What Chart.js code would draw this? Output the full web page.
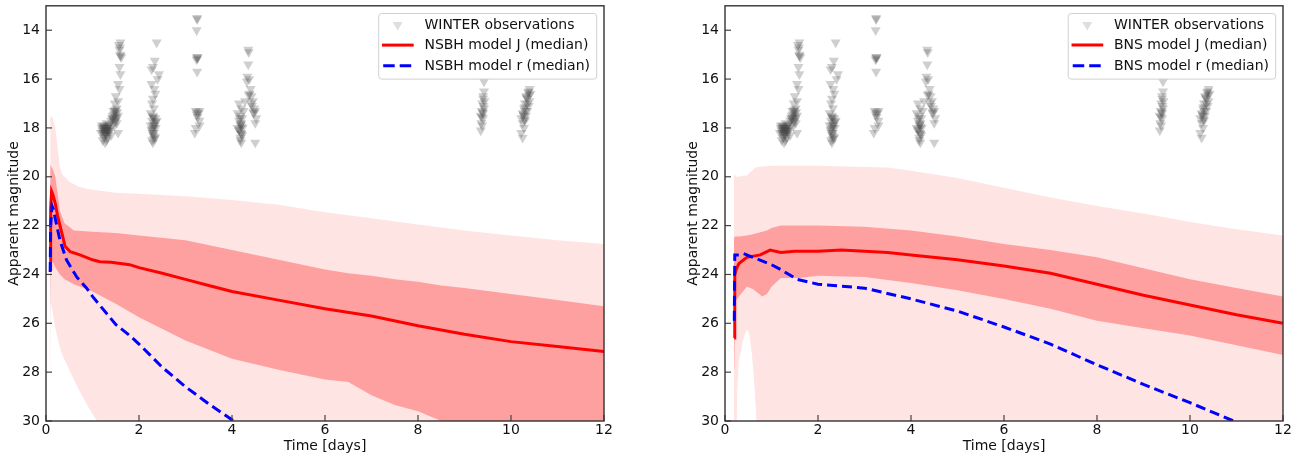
<!DOCTYPE html>
<html><head><meta charset="utf-8">
<script src="https://cdn.jsdelivr.net/npm/chart.js@4.4.1/dist/chart.umd.min.js"></script>
<style>
html,body{margin:0;padding:0;background:#fff;width:1315px;height:455px;overflow:hidden}
canvas{position:absolute;top:0}
</style></head><body>
<canvas id="c1" width="640" height="455" style="left:0px"></canvas>
<canvas id="c2" width="636" height="455" style="left:679px"></canvas>
<script>
// ---------- tick labels ----------
const xTicks = [0, 2, 4, 6, 8, 10, 12];
const yTicks = [14, 16, 18, 20, 22, 24, 26, 28, 30];

// ---------- WINTER observations (upper limits) ----------
const obsTime = [
 1.2,1.22,1.25,1.25,1.28,1.3,1.3,1.32,1.33,1.35,1.35,1.38,1.22,1.27,1.4,1.4,1.42,1.2,1.18,1.3,1.26,1.34,1.29,
 1.24,1.27,1.31,1.28,1.33,1.21,1.36,1.26,1.3,1.23,1.32,1.29,1.25,1.37,
 1.6,1.58,1.6,1.62,1.58,1.6,1.55,1.58,1.5,1.55,1.48,1.52,1.45,1.5,1.55,1.45,1.5,1.52,1.47,1.55,1.43,1.48,1.57,
 1.46,1.5,1.53,1.44,1.49,1.51,1.47,1.6,1.59,
 2.38,2.34,2.3,2.27,2.43,2.4,2.27,2.33,2.35,2.3,2.28,2.32,2.25,2.3,2.35,2.28,2.33,2.3,2.36,2.27,2.32,2.3,2.35,2.28,2.3,2.38,2.25,2.32,
 2.31,2.34,2.29,2.33,2.3,2.36,2.28,2.32,
 3.25,3.25,3.24,3.25,3.25,3.24,3.25,3.22,3.25,3.28,3.3,3.26,3.3,3.22,3.3,3.2,3.24,3.26,
 4.35,4.36,4.35,4.33,4.37,4.32,4.4,4.38,4.42,4.45,4.43,4.48,4.5,4.47,4.52,4.5,4.5,4.36,4.41,4.46,
 4.15,4.2,4.12,4.18,4.22,4.15,4.2,4.18,4.23,4.15,4.2,4.22,4.18,4.2,4.25,4.28,4.12,4.17,4.19,4.21,4.16,4.2,4.18,
 9.42,9.42,9.4,9.43,9.38,9.42,9.37,9.4,9.35,9.4,9.36,9.38,9.35,9.41,9.39,9.37,9.4,
 10.4,10.38,10.42,10.35,10.4,10.3,10.38,10.28,10.35,10.25,10.32,10.22,10.3,10.25,10.28,10.22,10.25,10.3,10.35,10.33,10.27,
 10.37,10.33,10.3,10.27,10.39,10.29
];
const obsMag = [
 18.0,18.2,17.9,18.3,18.1,17.8,18.0,18.4,18.1,17.9,18.2,18.0,18.5,18.6,17.7,18.3,17.6,17.9,18.2,18.5,18.0,18.1,18.2,
 18.05,17.95,18.1,18.25,18.0,18.1,17.85,18.15,18.3,17.95,17.95,18.05,18.4,18.1,
 14.5,14.8,15.0,15.1,15.5,15.8,16.2,16.4,16.7,16.9,17.0,17.2,17.3,17.4,17.5,17.6,17.7,17.8,17.9,18.2,17.5,17.3,14.6,
 17.45,17.55,17.35,17.65,17.25,17.6,17.75,15.05,14.7,
 14.5,15.25,15.5,15.6,15.8,16.0,16.2,16.4,16.6,16.8,17.0,17.2,17.4,17.5,17.6,17.7,17.8,17.9,18.0,18.1,18.2,18.3,18.4,18.5,18.6,17.7,17.9,18.0,
 17.6,17.9,18.2,18.35,17.55,17.75,18.05,18.45,
 13.5,13.55,14.0,15.1,15.15,15.2,15.7,17.3,17.35,17.4,17.3,17.55,17.7,18.0,17.9,18.2,17.45,15.1,
 14.8,14.9,15.4,15.9,16.0,16.1,16.4,16.6,16.7,16.9,17.1,17.2,17.3,17.4,17.6,17.8,18.6,16.65,17.0,17.35,
 17.0,17.2,17.4,17.5,17.6,17.7,17.8,17.9,18.0,18.1,18.2,18.3,18.5,18.6,17.3,16.9,18.0,17.6,17.85,17.95,18.05,18.25,18.4,
 16.1,16.5,16.7,16.9,17.0,17.2,17.3,17.4,17.5,17.6,17.8,17.9,18.1,17.1,17.35,17.55,16.8,
 16.4,16.5,16.6,16.8,16.9,17.0,17.1,17.2,17.3,17.4,17.5,17.6,17.7,17.8,18.0,18.2,18.4,17.3,17.0,16.7,17.5,
 16.55,16.75,17.15,17.45,16.65,17.65
];

// ---------- NSBH panel ----------
const nsbhLightT     = [0.09,0.1,0.105,0.15,0.2,0.3,0.35,0.5,0.7,0.9,1.1,1.5,2,3,4,5,6,7,8,9,10,11,12];
const nsbhLightUpper = [17.5,17.5,17.5,17.6,18.0,19.6,19.9,20.2,20.4,20.5,20.55,20.65,20.7,20.8,20.95,21.15,21.45,21.7,21.95,22.2,22.4,22.6,22.75];
const nsbhLightLower = [28.3,28.3,25.2,25.6,26.2,27.0,27.3,27.9,28.7,29.4,30.0,31,32,33,33,33,33,33,33,33,33,33,33];
const nsbhDarkT      = [0.09,0.1,0.105,0.15,0.2,0.3,0.4,0.6,1,1.5,2,3,4,5,6,6.5,7,7.5,8,8.5,9,10,11,12];
const nsbhDarkUpper  = [19.5,19.5,19.55,19.7,20.0,21.4,21.9,22.2,22.25,22.3,22.4,22.6,23.0,23.4,23.8,23.95,24.05,24.2,24.3,24.45,24.55,24.8,25.05,25.3];
const nsbhDarkLower  = [25.2,25.2,23.4,23.5,23.7,24.0,24.2,24.4,24.7,25.2,25.75,26.7,27.45,27.9,28.3,28.4,28.95,29.35,29.6,30.0,30.5,31.2,31.8,32.3];
const nsbhJT   = [0.09,0.1,0.12,0.15,0.2,0.25,0.34,0.41,0.52,0.73,1.0,1.16,1.4,1.8,2.0,2.5,3.0,3.5,4.0,5,6,7,8,9,10,11,12];
const nsbhJMag = [23.8,21.3,20.6,20.75,21.1,21.6,22.3,22.85,23.07,23.2,23.4,23.48,23.5,23.6,23.72,23.95,24.2,24.45,24.7,25.05,25.4,25.7,26.1,26.45,26.75,26.95,27.15];
const nsbhRT   = [0.09,0.1,0.13,0.16,0.22,0.3,0.44,0.66,0.87,1.0,1.5,1.8,2.0,2.24,2.5,3.0,3.5,4.0,4.5];
const nsbhRMag = [23.9,22.0,21.2,21.35,21.9,22.6,23.4,24.1,24.55,24.9,26.05,26.5,26.85,27.3,27.8,28.6,29.3,29.95,30.7];

// ---------- BNS panel ----------
const bnsLightT     = [0.19,0.25,0.26,0.3,0.4,0.47,0.52,0.58,0.64,0.69,0.7,1.0,2,3,3.5,4,5,6,7,8,9,10,11,12];
const bnsLightUpper = [19.9,20.0,20.0,20.0,19.95,19.95,19.85,19.75,19.65,19.6,19.6,19.55,19.55,19.6,19.62,19.75,20.05,20.45,20.85,21.2,21.5,21.85,22.15,22.4];
const bnsLightLower = [31,31,28.8,27.5,26.6,26.25,26.4,27.3,28.7,30.5,31,31,31,31,31,31,31,31,31,31,31,31,31,31];
const bnsDarkT      = [0.19,0.2,0.22,0.3,0.47,0.6,0.8,0.9,1.0,1.2,1.6,2,3,4,5,6,7,8,9,10,11,12];
const bnsDarkUpper  = [22.5,22.5,22.45,22.45,22.4,22.35,22.25,22.2,22.1,22.0,22.0,22.0,22.05,22.2,22.45,22.75,23.0,23.3,23.75,24.2,24.55,24.9];
const bnsDarkLower  = [27.9,27.9,25.1,24.9,24.5,24.6,24.9,24.8,24.5,24.15,24.15,24.05,24.1,24.35,24.65,25.0,25.4,25.9,26.2,26.5,26.9,27.3];
const bnsJT   = [0.2,0.21,0.25,0.3,0.47,0.76,0.97,1.2,1.5,2,2.5,3,3.5,4,5,6,7,8,9,10,11,12];
const bnsJMag = [26.6,24.0,23.75,23.55,23.3,23.2,23.0,23.1,23.05,23.05,23.0,23.05,23.1,23.2,23.4,23.65,23.95,24.4,24.85,25.25,25.65,26.0];
const bnsRT   = [0.2,0.21,0.3,0.4,0.6,1.0,1.2,1.55,2,3,4,5,6,7,8,9,10,11];
const bnsRMag = [25.9,23.2,23.2,23.15,23.3,23.6,23.8,24.2,24.4,24.56,25.0,25.5,26.15,26.85,27.7,28.5,29.25,30.05];

// ---------- styling ----------
const FAMILY = "'DejaVu Sans', sans-serif";
const FONT = {family: FAMILY, size: 14};
const TICKFONT = {family: FAMILY, size: 14};
const LIGHT = '#ffe4e4', DARK = '#ffa0a0', RED = '#ff0000', BLUE = '#0000ff';
const OBS = 'rgba(70,70,70,0.26)';
const DASH = [10, 5];

const pts = (t, m) => t.map((v, i) => ({x: v, y: m[i]}));

const axesPlugin = {
  id: 'mplAxes',
  afterDatasetsDraw(chart) {
    const {ctx, chartArea: a, scales: {x, y}} = chart;
    ctx.save();
    ctx.strokeStyle = '#444'; ctx.lineWidth = 1.2;
    x.ticks.forEach(t => {
      const px = x.getPixelForValue(t.value);
      ctx.beginPath(); ctx.moveTo(px, a.bottom); ctx.lineTo(px, a.bottom - 6); ctx.stroke();
    });
    y.ticks.forEach(t => {
      const py = y.getPixelForValue(t.value);
      ctx.beginPath(); ctx.moveTo(a.left, py); ctx.lineTo(a.left + 6, py); ctx.stroke();
    });
    ctx.strokeStyle = '#333'; ctx.lineWidth = 1.4;
    ctx.strokeRect(a.left, a.top, a.right - a.left, a.bottom - a.top);
    ctx.restore();
  }
};

function legendPlugin(labels) {
  return {
    id: 'mplLegend',
    afterDraw(chart) {
      const {ctx, chartArea: a} = chart;
      ctx.save();
      ctx.font = `${FONT.size}px ${FONT.family}`;
      const maxW = Math.max(...labels.map(l => ctx.measureText(l).width));
      const w = 45.7 + maxW + 6.7, h = 65.6;
      const x1 = a.right - 7.3 - w, y1 = a.top + 7.7;
      ctx.beginPath();
      ctx.roundRect(x1, y1, w, h, 3);
      ctx.fillStyle = 'rgba(255,255,255,0.8)'; ctx.fill();
      ctx.strokeStyle = '#d0d0d0'; ctx.lineWidth = 1; ctx.stroke();
      const rows = [y1 + 11.3, y1 + 31.6, y1 + 52.3];
      const cx = x1 + 19, cy = rows[0], r = 5.8;
      ctx.fillStyle = 'rgba(80,80,80,0.18)';
      ctx.beginPath();
      ctx.moveTo(cx - r * 0.866, cy - r * 0.5);
      ctx.lineTo(cx + r * 0.866, cy - r * 0.5);
      ctx.lineTo(cx, cy + r);
      ctx.closePath(); ctx.fill();
      ctx.lineWidth = 3; ctx.strokeStyle = RED;
      ctx.beginPath(); ctx.moveTo(x1 + 3.3, rows[1]); ctx.lineTo(x1 + 35, rows[1]); ctx.stroke();
      ctx.strokeStyle = BLUE; ctx.setLineDash([11.5, 5]);
      ctx.beginPath(); ctx.moveTo(x1 + 4.5, rows[2]); ctx.lineTo(x1 + 32.5, rows[2]); ctx.stroke();
      ctx.setLineDash([]);
      ctx.fillStyle = '#111'; ctx.textBaseline = 'middle'; ctx.textAlign = 'left';
      labels.forEach((l, i) => ctx.fillText(l, x1 + 45.7, rows[i] + 0.5));
      ctx.restore();
    }
  };
}

function makeChart(id, rightPad, light, dark, j, r, labels) {
  return new Chart(document.getElementById(id), {
    type: 'line',
    data: {
      datasets: [
        {label: 'light upper', data: light[0], fill: '+1', backgroundColor: LIGHT, borderWidth: 0, pointRadius: 0, order: 6},
        {label: 'light lower', data: light[1], fill: false, borderWidth: 0, pointRadius: 0, order: 7},
        {label: 'dark upper', data: dark[0], fill: '+1', backgroundColor: DARK, borderWidth: 0, pointRadius: 0, order: 4},
        {label: 'dark lower', data: dark[1], fill: false, borderWidth: 0, pointRadius: 0, order: 5},
        {label: labels[1], data: j, borderColor: RED, borderWidth: 3, pointRadius: 0, fill: false, order: 2},
        {label: labels[2], data: r, borderColor: BLUE, borderWidth: 3, borderDash: DASH, pointRadius: 0, fill: false, order: 1},
        {label: labels[0], data: pts(obsTime, obsMag), showLine: false, pointStyle: 'triangle', rotation: 180,
         pointRadius: 5.8, pointBorderWidth: 0, pointBackgroundColor: OBS, borderColor: 'rgba(0,0,0,0)', order: 0}
      ]
    },
    options: {
      responsive: false, animation: false,
      layout: {padding: {left: 0, top: 5, right: rightPad, bottom: 0}},
      elements: {line: {tension: 0}},
      plugins: {legend: {display: false}, tooltip: {enabled: false}},
      scales: {
        x: {
          type: 'linear', min: 0, max: 12,
          grid: {display: false, drawTicks: false}, border: {display: false},
          ticks: {font: TICKFONT, color: '#111', padding: 1, maxRotation: 0, callback: v => String(v)},
          title: {display: true, text: 'Time [days]', font: FONT, color: '#111', padding: {top: 0, bottom: 0}},
          afterBuildTicks: s => { s.ticks = xTicks.map(v => ({value: v})); },
          afterFit: s => { s.height = 34; s.paddingLeft = 0; s.paddingRight = 0; }
        },
        y: {
          type: 'linear', min: 13, max: 30, reverse: true,
          grid: {display: false, drawTicks: false}, border: {display: false},
          ticks: {font: TICKFONT, color: '#111', padding: 6, callback: v => String(v)},
          title: {display: true, text: 'Apparent magnitude', font: FONT, color: '#111', padding: {top: 5.5, bottom: 0}},
          afterBuildTicks: s => { s.ticks = yTicks.map(v => ({value: v})); },
          afterFit: s => { s.width = 46; s.paddingTop = 0; s.paddingBottom = 0; }
        }
      }
    },
    plugins: [axesPlugin, legendPlugin(labels)]
  });
}

makeChart('c1', 36,
  [pts(nsbhLightT, nsbhLightUpper), pts(nsbhLightT, nsbhLightLower)],
  [pts(nsbhDarkT, nsbhDarkUpper), pts(nsbhDarkT, nsbhDarkLower)],
  pts(nsbhJT, nsbhJMag), pts(nsbhRT, nsbhRMag),
  ['WINTER observations', 'NSBH model J (median)', 'NSBH model r (median)']);

makeChart('c2', 32,
  [pts(bnsLightT, bnsLightUpper), pts(bnsLightT, bnsLightLower)],
  [pts(bnsDarkT, bnsDarkUpper), pts(bnsDarkT, bnsDarkLower)],
  pts(bnsJT, bnsJMag), pts(bnsRT, bnsRMag),
  ['WINTER observations', 'BNS model J (median)', 'BNS model r (median)']);
</script>
</body></html>
